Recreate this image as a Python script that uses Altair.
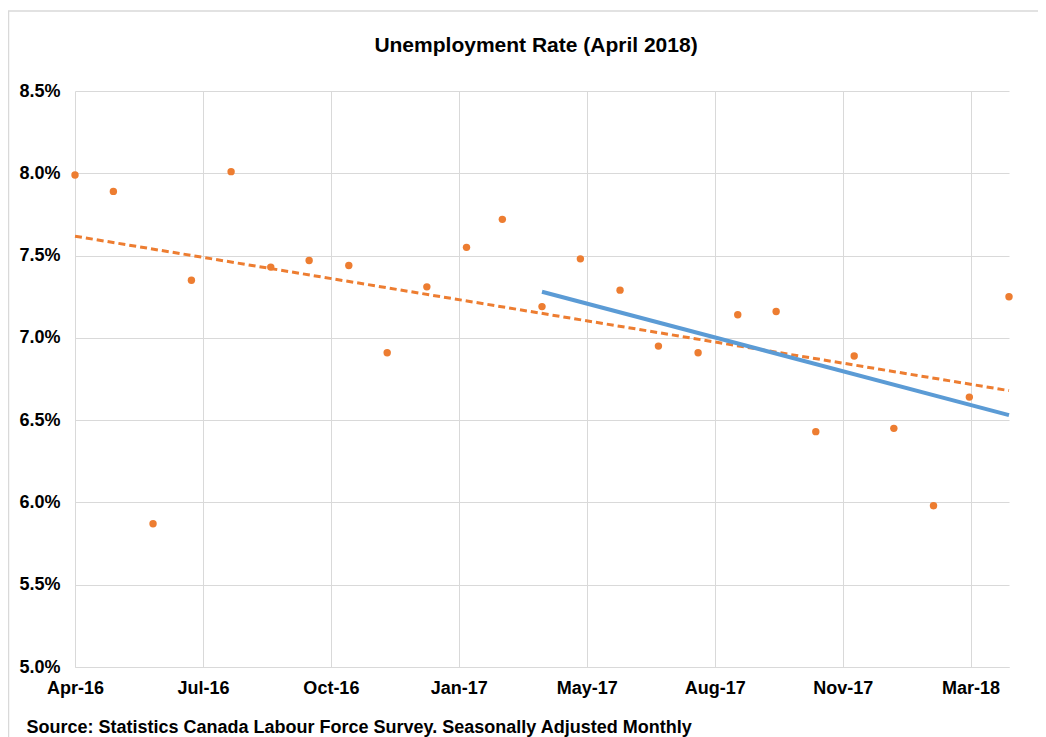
import altair as alt
import pandas as pd

# ---- data ----
dates = [
    "2016-04-01", "2016-05-01", "2016-06-01", "2016-07-01", "2016-08-01",
    "2016-09-01", "2016-10-01", "2016-11-01", "2016-12-01", "2017-01-01",
    "2017-02-01", "2017-03-01", "2017-04-01", "2017-05-01", "2017-06-01",
    "2017-07-01", "2017-08-01", "2017-09-01", "2017-10-01", "2017-11-01",
    "2017-12-01", "2018-01-01", "2018-02-01", "2018-03-01", "2018-04-01",
]
rates = [
    7.99, 7.89, 5.87, 7.35, 8.01,
    7.43, 7.47, 7.44, 6.91, 7.31,
    7.55, 7.72, 7.19, 7.48, 7.29,
    6.95, 6.91, 7.14, 7.16, 6.43,
    6.89, 6.45, 5.98, 6.64, 7.25,
]
tick_labels = ["Apr-16", "Jul-16", "Oct-16", "Jan-17", "May-17", "Aug-17", "Nov-17", "Mar-18"]
tick_days = [0, 100, 200, 300, 400, 500, 600, 700]
y_ticks = [5.0, 5.5, 6.0, 6.5, 7.0, 7.5, 8.0, 8.5]
axis_start = "2016-04-01"
axis_end = "2018-04-01"
recent_start = "2017-04-01"

title_text = "Unemployment Rate (April 2018)"
source_text = "Source: Statistics Canada Labour Force Survey. Seasonally Adjusted Monthly"

t0 = pd.Timestamp(axis_start)
days = [(pd.Timestamp(d) - t0).days for d in dates]
span = (pd.Timestamp(axis_end) - t0).days
recent_days = (pd.Timestamp(recent_start) - t0).days
df = pd.DataFrame({"date": dates, "days": days, "rate": rates})

FONT = "Liberation Sans"
ORANGE = "#ED7D31"
BLUE = "#5B9BD5"
GRID = "#D9D9D9"

label_expr = (
    "[" + ",".join(f"'{l}'" for l in tick_labels) + "][indexof(["
    + ",".join(str(v) for v in tick_days) + "], datum.value)]"
)

x_enc = alt.X(
    "days:Q",
    scale=alt.Scale(domain=[0, span], nice=False, zero=False),
    axis=alt.Axis(
        values=tick_days, labelExpr=label_expr, grid=True, gridColor=GRID,
        gridWidth=1, ticks=False, domainColor=GRID, domainWidth=1,
        labelFont=FONT, labelFontSize=18, labelFontWeight="bold",
        labelColor="black", labelPadding=12, labelAngle=0,
        labelFlush=False, labelOverlap=False, labelBound=False,
        title=source_text, titleAnchor="start", titleAlign="left",
        titleX=-49, titleY=65, titleBaseline="alphabetic",
        titleFont=FONT, titleFontSize=18, titleFontWeight="bold",
        titleColor="black",
    ),
)
y_enc = alt.Y(
    "rate:Q",
    scale=alt.Scale(domain=[5.0, 8.5], nice=False, zero=False),
    axis=alt.Axis(
        values=y_ticks, labelExpr="format(datum.value, '.1f') + '%'",
        grid=True, gridColor=GRID, gridWidth=1, ticks=False, domain=False,
        labelFont=FONT, labelFontSize=18, labelFontWeight="bold",
        labelColor="black", labelPadding=15, labelOverlap=False,
        labelBound=False, title=None,
    ),
)

base = alt.Chart(df).encode(x=x_enc, y=y_enc)

frame = alt.Chart(alt.Data(values=[{"f": 1}])).mark_rect(
    fillOpacity=0, stroke=GRID, strokeWidth=1.5
).encode(
    x=alt.value(-66.5), x2=alt.value(1000), y=alt.value(-80), y2=alt.value(720)
)

points = base.mark_circle(size=55, color=ORANGE, opacity=1)

trend_all = base.transform_regression("days", "rate").mark_line(
    color=ORANGE, strokeWidth=3, strokeDash=[7, 4]
)

trend_recent = base.transform_filter(
    f"datum.days >= {recent_days}"
).transform_regression("days", "rate").mark_line(
    color=BLUE, strokeWidth=4
)

chart = alt.layer(frame, points, trend_all, trend_recent).properties(
    width=934,
    height=576,
    title=alt.TitleParams(
        title_text, font=FONT, fontSize=21, fontWeight="bold", color="black",
        anchor="middle", baseline="alphabetic", dx=-6, offset=0, dy=63,
    ),
    autosize=alt.AutoSizeParams(type="none"),
    padding={"left": 67, "top": 83, "right": 29, "bottom": 70},
).configure_view(strokeWidth=0)

chart.save("out.html", embed_options={"renderer": "svg", "actions": False})
